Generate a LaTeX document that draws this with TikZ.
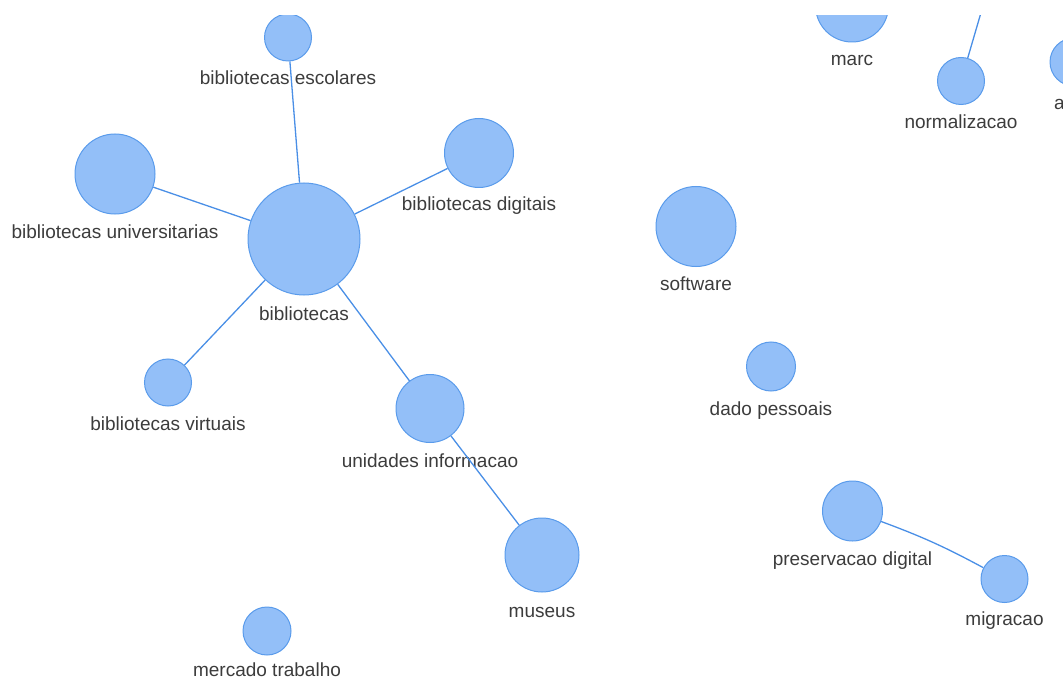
\documentclass[tikz,border=0pt]{standalone}
\usepackage{fontspec}
\setmainfont{Liberation Sans}
\definecolor{topicfill}{HTML}{93BFF8}
\definecolor{topicline}{HTML}{5A9BEB}
\definecolor{linkcol}{HTML}{4A8FE6}
\definecolor{txtcol}{HTML}{3C3C3C}
\tikzset{
  topic/.style={circle, draw=topicline, fill=topicfill, line width=1pt, inner sep=0pt, minimum size=#1},
  lbl/.style={text=txtcol, font=\fontsize{19}{22}\selectfont, inner sep=0pt, anchor=base},
  link/.style={draw=linkcol, line width=1.3pt}
}
\begin{document}
\begin{tikzpicture}[x=1pt,y=-1pt]
\useasboundingbox (0,0) rectangle (1063,679);
\clip (0,16) rectangle (1063,679);

\node[topic=112pt] at (304,239)   (bib)  {};
\node[topic=47pt]  at (288,37.5)  (besc) {};
\node[topic=80pt]  at (115,174)   (buni) {};
\node[topic=69pt]  at (479,153)   (bdig) {};
\node[topic=47pt]  at (168,382.5) (bvir) {};
\node[topic=68pt]  at (430,408.5) (unin) {};
\node[topic=74pt]  at (542,555)   (mus)  {};
\node[topic=48pt]  at (267,631)   (merc) {};

\node[topic=80pt]  at (696,226.5) (soft) {};
\node[topic=49pt]  at (771,366.5) (dado) {};
\node[topic=60pt]  at (852.5,511) (pres) {};
\node[topic=47pt]  at (1004.5,579) (migr) {};

\node[topic=73pt]  at (852,5.5)   (marc) {};
\node[topic=47pt]  at (961,81)    (norm) {};
\node[topic=48pt]  at (1074,62)   (arq)  {};
\coordinate (up) at (992,-25);

\node[lbl] at (304,320)   (lbib)  {bibliotecas};
\node[lbl] at (288,85)    (lbesc) {bibliotecas escolares};
\node[lbl] at (115,238.5) (lbuni) {bibliotecas universitarias};
\node[lbl] at (479,211)   (lbdig) {bibliotecas digitais};
\node[lbl] at (168,430)   (lbvir) {bibliotecas virtuais};
\node[lbl] at (430,467)   (lunin) {unidades informacao};
\node[lbl] at (542,617)   (lmus)  {museus};
\node[lbl] at (267,676.5) (lmerc) {mercado trabalho};

\node[lbl] at (696,290)   (lsoft) {software};
\node[lbl] at (771,415)   (ldado) {dado pessoais};
\node[lbl] at (852.5,565) (lpres) {preservacao digital};
\node[lbl] at (1004.5,625) (lmigr) {migracao};

\node[lbl] at (852,66)    (lmarc) {marc};
\node[lbl] at (961,128.5) (lnorm) {normalizacao};
\node[lbl, anchor=base west] at (1054,110) (larq) {a};

\draw[link] (bib) -- (besc);
\draw[link] (bib) -- (buni);
\draw[link] (bib) -- (bdig);
\draw[link] (bib) -- (bvir);
\draw[link] (bib) -- (unin) -- (mus);

\draw[link] (pres) to [bend left=4] (migr);
\draw[link] (norm) -- (up);

\end{tikzpicture}
\end{document}
